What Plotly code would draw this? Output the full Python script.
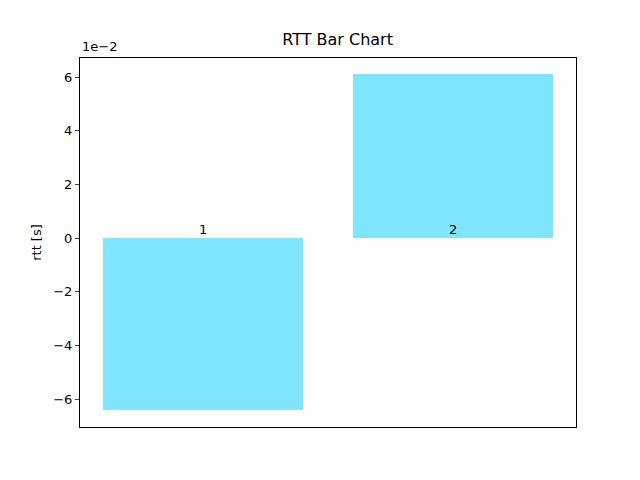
import plotly.graph_objects as go

categories = ["1", "2"]
rtt = [-0.0641, 0.0611]  # seconds
scale = 1e-2

xs = [0, 1]
ys = [v / scale for v in rtt]

fig = go.Figure()
fig.add_trace(go.Bar(x=xs, y=ys, width=0.8, marker_color="#80e5ff",
                     marker_line_width=0))

# labels sitting just above zero, like the original
for x, lab in zip(xs, categories):
    fig.add_annotation(x=x, y=0, text=lab, showarrow=False, yanchor="bottom",
                       yshift=-1, font=dict(size=13, color="black"))

fig.add_annotation(xref="paper", yref="paper", x=0, y=1, text="1e\u22122",
                   showarrow=False, xanchor="left", yanchor="bottom", yshift=2,
                   font=dict(size=13, color="black"))

fig.update_layout(
    width=640, height=480,
    margin=dict(l=72, r=72, t=50, b=61),
    plot_bgcolor="white", paper_bgcolor="white",
    font=dict(family="DejaVu Sans", size=13, color="black"),
    title=dict(text="RTT Bar Chart", x=0.515, xanchor="center", y=0.935,
               yanchor="middle", font=dict(size=16)),
    showlegend=False,
    bargap=0,
)
fig.update_xaxes(range=[-0.49, 1.49], showticklabels=False, ticks="",
                 showgrid=False, zeroline=False, showline=True,
                 linecolor="black", linewidth=1, mirror=True, automargin=False)
fig.update_yaxes(range=[-7.04, 6.71], tickvals=[-6, -4, -2, 0, 2, 4, 6],
                 ticks="outside", ticklen=4, showgrid=False, zeroline=False,
                 showline=True, linecolor="black", linewidth=1, mirror=True,
                 automargin=False,
                 title=dict(text="rtt [s]", standoff=8, font=dict(size=13)))

fig.write_html("out.html")
